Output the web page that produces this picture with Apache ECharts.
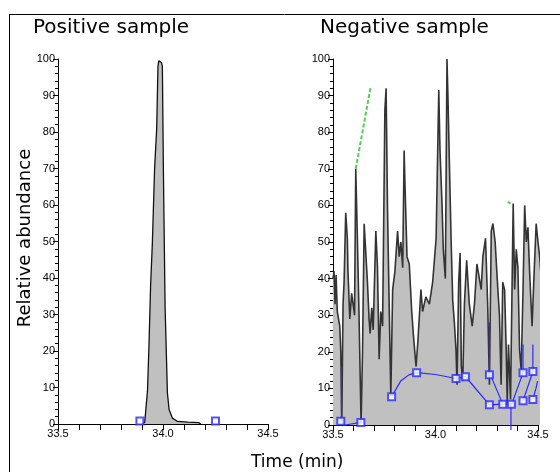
<!DOCTYPE html>
<html>
<head>
<meta charset="utf-8">
<script src="https://cdn.jsdelivr.net/npm/echarts@6/dist/echarts.min.js"></script>
<style>
    html, body { margin: 0; padding: 0; background: #fff; }
    #chart { width: 560px; height: 472px; }
</style>
</head>
<body>
<div id="chart"></div>
<script>
// panel titles and axis labels
var panelTitles = ['Positive sample', 'Negative sample'];
var xAxisTitle = 'Time (min)';
var yAxisTitle = 'Relative abundance';
var xLabelValues = [33.5, 34.0, 34.5];

// positive sample: [time (min), relative abundance]
var posTrace = [
    [33.900, 0], [33.913, 0.5], [33.926, 9], [33.933, 21], [33.941, 38], [33.949, 49],
    [33.960, 70], [33.970, 81], [33.976, 98], [33.980, 99.5], [33.986, 100], [33.993, 99],
    [33.997, 98], [34.002, 69], [34.010, 32], [34.021, 8.5], [34.029, 4], [34.045, 1.6],
    [34.069, 0.7], [34.120, 0.5], [34.170, 0.4], [34.180, 0]
];
var posMarkers = [[33.89, 0.8], [34.25, 0.8]];

// negative sample trace
var negTrace = [
    [33.500, 40], [33.505, 42], [33.510, 33], [33.515, 41], [33.521, 31], [33.533, 27],
    [33.538, 20], [33.543, 1], [33.549, 33], [33.554, 39], [33.562, 58], [33.570, 51],
    [33.573, 42], [33.582, 29], [33.591, 36], [33.598, 33], [33.605, 30], [33.611, 70],
    [33.619, 51], [33.627, 30], [33.632, 15], [33.637, 0.5], [33.644, 20], [33.652, 55],
    [33.660, 47], [33.668, 39], [33.676, 29], [33.681, 25], [33.689, 32], [33.696, 26],
    [33.709, 53], [33.717, 43], [33.725, 18], [33.733, 31], [33.742, 27], [33.753, 86],
    [33.759, 92], [33.766, 59], [33.774, 33], [33.782, 8], [33.791, 37], [33.802, 42],
    [33.815, 53], [33.823, 46], [33.831, 50], [33.840, 43], [33.847, 75], [33.851, 66],
    [33.861, 46], [33.872, 44], [33.884, 31], [33.893, 24], [33.905, 16], [33.913, 22],
    [33.929, 37], [33.937, 31], [33.953, 35], [33.970, 33], [33.986, 39], [34.003, 51],
    [34.016, 91.5], [34.022, 75], [34.032, 60], [34.038, 48], [34.048, 40], [34.056, 100],
    [34.061, 89], [34.068, 71], [34.076, 51], [34.084, 34], [34.092, 28], [34.100, 20.5],
    [34.105, 11], [34.113, 39], [34.120, 47], [34.126, 16], [34.133, 12], [34.141, 33],
    [34.152, 45], [34.165, 33], [34.179, 27], [34.190, 33], [34.202, 44], [34.211, 41],
    [34.223, 37], [34.231, 46], [34.244, 51], [34.255, 32], [34.263, 11], [34.272, 53],
    [34.280, 55], [34.291, 50], [34.301, 40], [34.312, 30], [34.320, 11], [34.328, 39],
    [34.337, 37], [34.345, 20.5], [34.350, 6], [34.356, 22], [34.366, 7], [34.374, 40],
    [34.379, 60.5], [34.386, 37], [34.394, 48], [34.402, 43], [34.410, 20.5], [34.418, 15],
    [34.427, 37], [34.435, 60], [34.443, 50], [34.451, 54], [34.459, 42], [34.471, 27],
    [34.480, 40], [34.491, 55], [34.500, 50], [34.508, 46], [34.516, 40]
];

// baseline / boundary segments of the negative sample
var negBaseline = [
    [[33.541, 16], [33.541, 1]],
    [[33.538, 1], [33.560, 0], [33.636, 0.7]],
    [[33.786, 7.7], [33.830, 12], [33.870, 13.7], [33.908, 14.3], [34.000, 13.8], [34.100, 12.7],
     [34.146, 13.2], [34.180, 11], [34.263, 5.5], [34.328, 5.7], [34.370, 5.7]],
    [[34.263, 28], [34.263, 13.7]],
    [[34.268, 13.7], [34.328, 5.7]],
    [[34.368, 6], [34.368, -1.4]],
    [[34.372, 5.7], [34.427, 14.3], [34.427, 22]],
    [[34.427, 6.6], [34.475, 14.6], [34.475, 22]],
    [[34.475, 7], [34.490, 10], [34.498, 12]]
];
var negMarkers = [
    [33.538, 1], [33.636, 0.7], [33.786, 7.7], [33.908, 14.3], [34.100, 12.7], [34.146, 13.2],
    [34.263, 5.5], [34.263, 13.7], [34.328, 5.7], [34.370, 5.7], [34.427, 6.6], [34.427, 14.3],
    [34.475, 7], [34.475, 14.6]
];
var negFitA = [[33.611, 70], [33.684, 92.5]];
var negFitB = [[34.352, 61], [34.366, 60.5]];

var chart = echarts.init(document.getElementById('chart'), null, { renderer: 'canvas' });

var labelFont = '"Liberation Sans Narrow", "Arial Narrow", "Liberation Sans", sans-serif';
var textFont = '"DejaVu Sans", sans-serif';
var blue = '#2a2aff';

function xAxisFor(gridIndex) {
    return {
        type: 'value',
        gridIndex: gridIndex,
        min: 33.5,
        max: 34.5,
        interval: 0.1,
        axisLine: { show: true, onZero: false, lineStyle: { color: '#000', width: 1 } },
        axisTick: { show: true, length: 6, lineStyle: { color: '#000' } },
        splitLine: { show: false },
        axisLabel: {
            color: '#000',
            fontFamily: labelFont,
            fontSize: 11,
            margin: 4,
            showMaxLabel: true,
            showMinLabel: true,
            formatter: function(v) {
                var s = v.toFixed(1);
                return xLabelValues.some(function(x) { return x.toFixed(1) === s; }) ? s : '';
            }
        }
    };
}

function yAxisFor(gridIndex) {
    return {
        type: 'value',
        gridIndex: gridIndex,
        min: 0,
        max: 100,
        interval: 10,
        axisLine: { show: true, lineStyle: { color: '#000', width: 1 } },
        axisTick: { show: true, length: 5, lineStyle: { color: '#000' } },
        minorTick: { show: true, splitNumber: 5, length: 3, lineStyle: { color: '#000' } },
        splitLine: { show: false },
        axisLabel: { color: '#000', fontFamily: labelFont, fontSize: 11, margin: 3 }
    };
}

var series = [
    {
        type: 'line', xAxisIndex: 0, yAxisIndex: 0, data: posTrace,
        symbol: 'none', silent: true,
        lineStyle: { color: '#111', width: 1.3 },
        areaStyle: { color: '#c0c0c0', opacity: 1 }
    },
    {
        type: 'scatter', xAxisIndex: 0, yAxisIndex: 0, data: posMarkers, z: 5,
        symbol: 'emptyRect', symbolSize: 7, silent: true,
        itemStyle: { color: blue, borderColor: blue, borderWidth: 1.5 }
    },
    {
        type: 'line', xAxisIndex: 1, yAxisIndex: 1, data: negTrace,
        symbol: 'none', silent: true,
        lineStyle: { color: '#333', width: 1.6 },
        areaStyle: { color: '#c0c0c0', opacity: 1 }
    },
    {
        type: 'line', xAxisIndex: 1, yAxisIndex: 1, data: negFitA,
        symbol: 'none', silent: true,
        lineStyle: { color: '#55cc55', width: 2, type: [4, 2] }
    },
    {
        type: 'line', xAxisIndex: 1, yAxisIndex: 1, data: negFitB,
        symbol: 'none', silent: true,
        lineStyle: { color: '#55cc55', width: 2 }
    }
];

negBaseline.forEach(function(seg) {
    series.push({
        type: 'line', xAxisIndex: 1, yAxisIndex: 1, data: seg, z: 4,
        symbol: 'none', silent: true, clip: false,
        lineStyle: { color: blue, width: 1.2 }
    });
});

series.push({
    type: 'scatter', xAxisIndex: 1, yAxisIndex: 1, data: negMarkers, z: 5,
    symbol: 'emptyRect', symbolSize: 7, silent: true,
    itemStyle: { color: blue, borderColor: blue, borderWidth: 1.5 }
});

var option = {
    backgroundColor: '#fff',
    animation: false,
    title: [
        { text: panelTitles[0], left: 28, top: 13, textStyle: { fontFamily: textFont, fontSize: 20, fontWeight: 'normal', color: '#000' } },
        { text: panelTitles[1], left: 315, top: 13, textStyle: { fontFamily: textFont, fontSize: 20, fontWeight: 'normal', color: '#000' } },
        { text: xAxisTitle, left: 246, top: 449, textStyle: { fontFamily: textFont, fontSize: 17, fontWeight: 'normal', color: '#000' } }
    ],
    graphic: [
        { type: 'line', shape: { x1: 9, y1: 14.5, x2: 560, y2: 14.5 }, style: { stroke: '#000', lineWidth: 1 } },
        { type: 'line', shape: { x1: 9.5, y1: 14, x2: 9.5, y2: 472 }, style: { stroke: '#000', lineWidth: 1 } },
        {
            type: 'text', x: 25, y: 238, rotation: Math.PI / 2,
            style: { text: yAxisTitle, font: '18px ' + textFont, fill: '#000', textAlign: 'center', textVerticalAlign: 'middle' }
        }
    ],
    grid: [
        { left: 58, right: 292, top: 59, bottom: 48 },
        { left: 333, right: 22, top: 59, bottom: 47 }
    ],
    xAxis: [xAxisFor(0), xAxisFor(1)],
    yAxis: [yAxisFor(0), yAxisFor(1)],
    series: series
};

chart.setOption(option);
</script>
</body>
</html>
